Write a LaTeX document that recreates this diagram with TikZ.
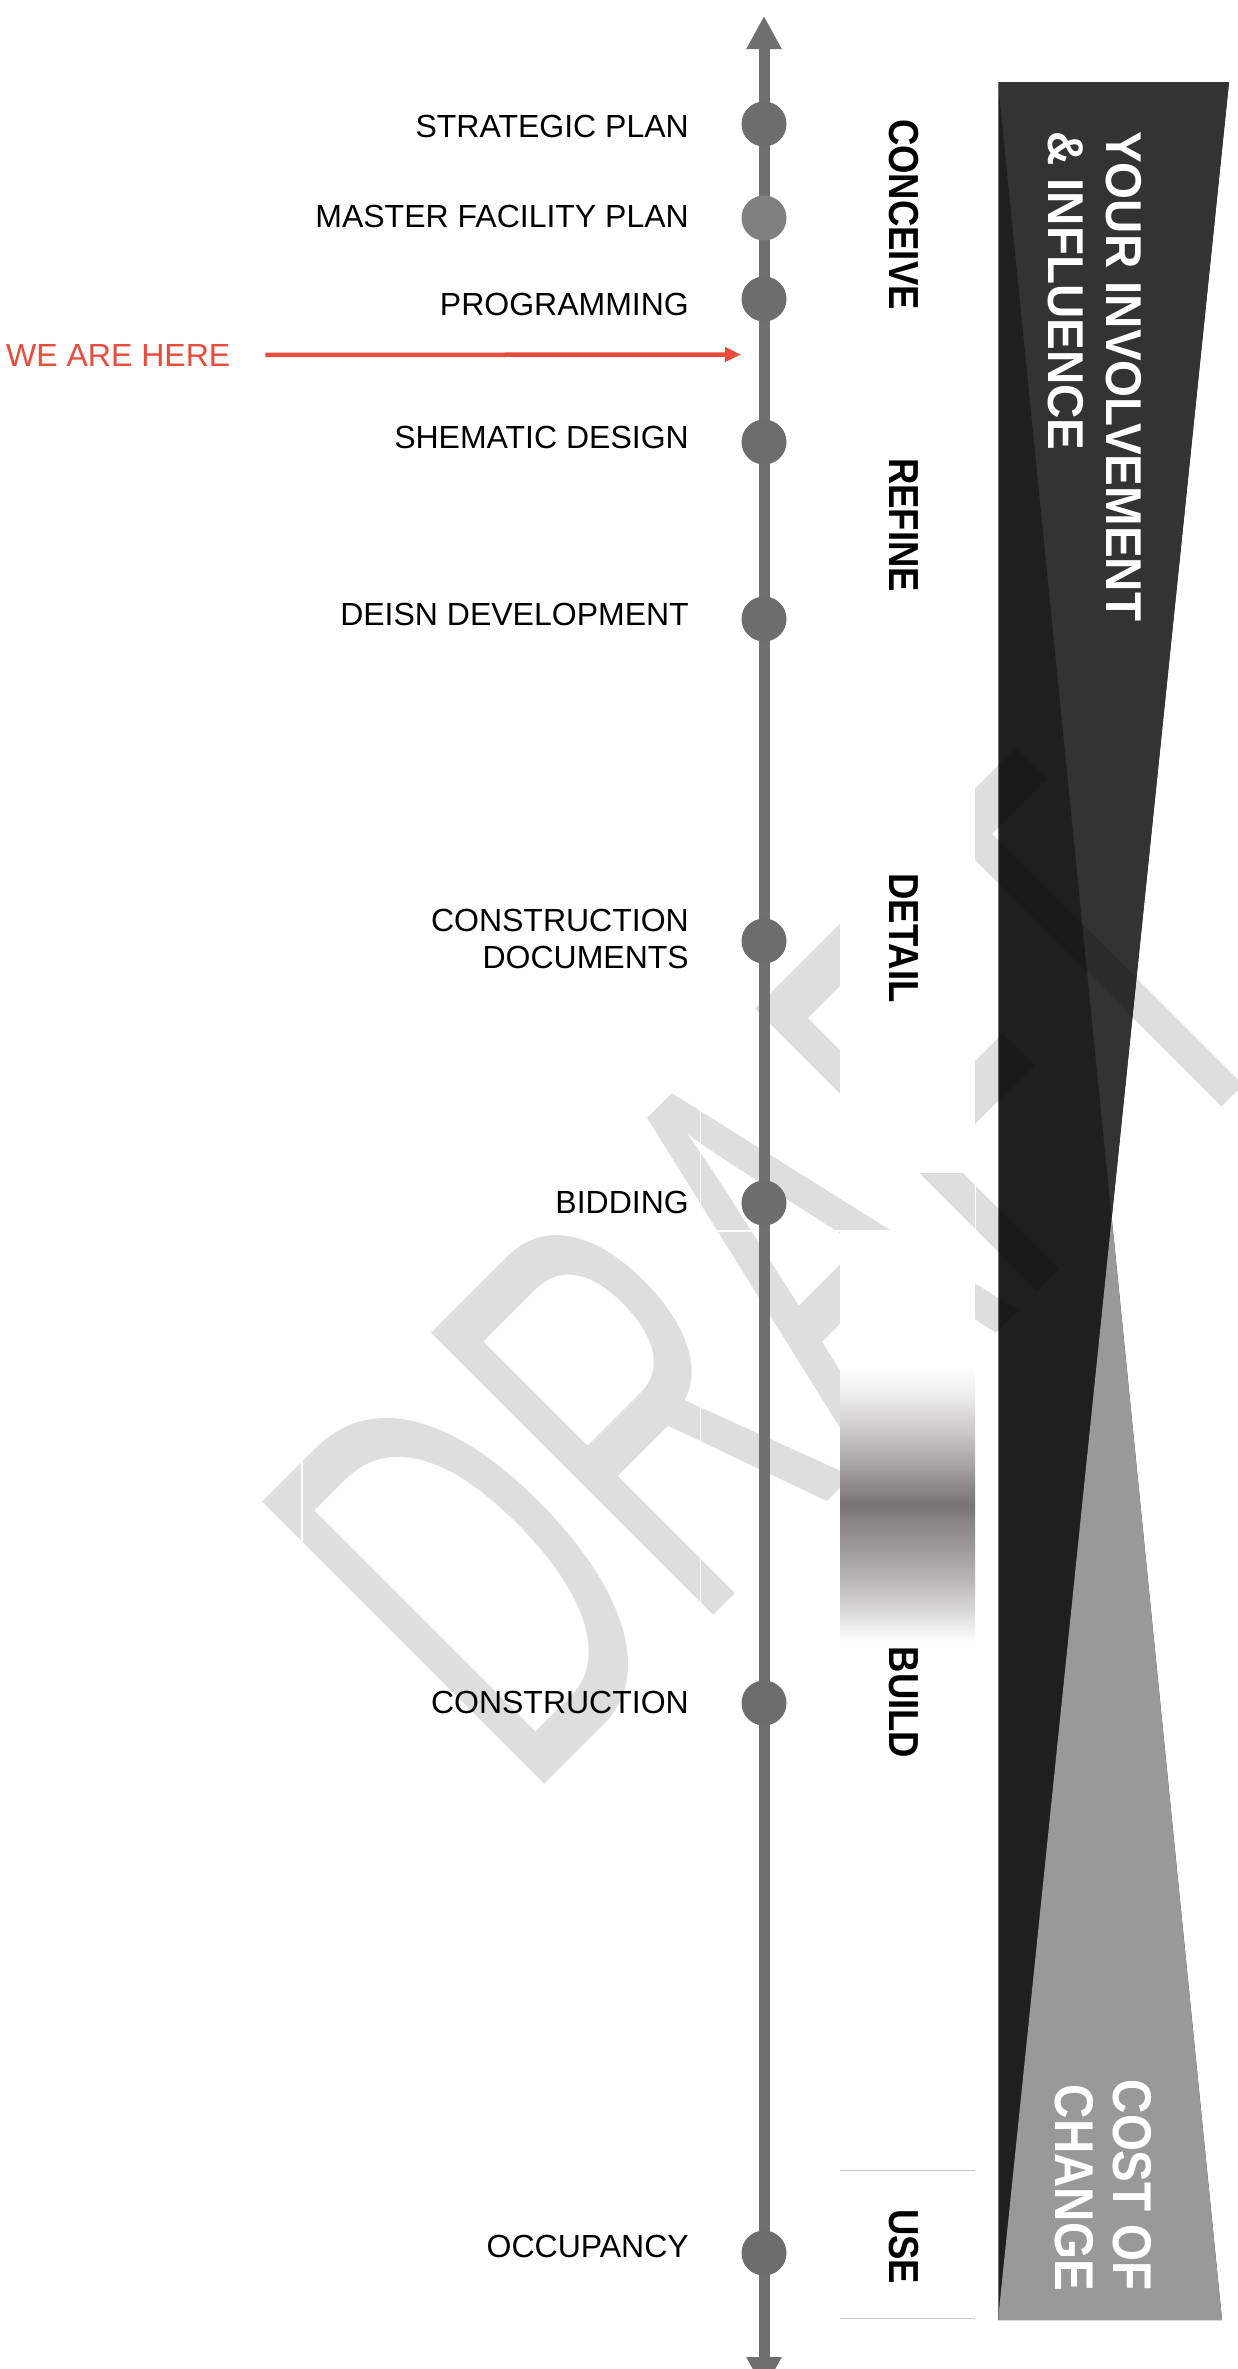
\documentclass[tikz,border=0pt]{standalone}
\usepackage{fontspec}
\setmainfont{Liberation Sans}
\usetikzlibrary{arrows.meta}
\definecolor{axisgray}{HTML}{6F6F6F}
\definecolor{dotgray}{HTML}{6D6D6D}
\definecolor{dotlight}{HTML}{808080}
\definecolor{herered}{HTML}{E84C3D}
\definecolor{banddark}{HTML}{1F1F1F}
\definecolor{bandmid}{HTML}{333333}
\definecolor{bandgray}{HTML}{999999}
\definecolor{wmgray}{HTML}{DEDEDE}
\definecolor{gradmid}{HTML}{787473}
\definecolor{uselinegray}{HTML}{C4C4C4}
\definecolor{bandedge}{HTML}{707070}
\pgfdeclareverticalshading{buildgrad}{100bp}{color(0bp)=(white); color(25bp)=(white); color(30.4bp)=(gradmid!26!white); color(36.4bp)=(gradmid!53!white); color(42.5bp)=(gradmid!75!white); color(46.7bp)=(gradmid!87!white); color(49.7bp)=(gradmid); color(52.6bp)=(gradmid!87!white); color(57.5bp)=(gradmid!63!white); color(63.4bp)=(gradmid!38!white); color(69.6bp)=(gradmid!13!white); color(75bp)=(white); color(100bp)=(white)}
\begin{document}
\begin{tikzpicture}[x=1pt,y=-1pt,
  dot/.style={circle, fill=dotgray, draw=none, minimum size=45pt, inner sep=0pt},
  dotpale/.style={dot, fill=dotlight},
  stage/.style={anchor=base east, inner sep=0pt, text=black, font=\fontsize{32}{37.6}\selectfont},
  phase/.style={rotate=-90, yscale=1.15, inner sep=0pt, text=black, font=\bfseries\fontsize{36.5}{40}\selectfont},
  bandtxt/.style={rotate=-90, inner sep=0pt, text=white},
  axisline/.style={draw=axisgray, line width=11pt, {Triangle[length=33pt,width=33pt]}-{Triangle[length=33pt,width=33pt]}},
  herearrow/.style={draw=herered, line width=4.5pt, -{Triangle[length=16pt,width=14pt]}},
  seam/.style={draw=white, line width=1.5pt},
  useline/.style={draw=uselinegray, line width=1pt},
  wmark/.style={anchor=base west, inner sep=0pt, rotate=45, xscale=0.57, text=wmgray, font=\fontsize{580}{600}\selectfont}
]
\useasboundingbox[fill=white] (0,0) rectangle (1237,2369);

% ---- right band: influence vs cost of change
\coordinate (btl) at (998,82);
\coordinate (btr) at (1229,82);
\coordinate (bx) at (1111.7,1218);
\coordinate (bbl) at (998,2320);
\coordinate (bbr) at (1222,2320);
\fill[banddark] (btl) -- (btr) -- (bx) -- (bbr) -- (bbl) -- cycle;
\fill[bandmid] (btl) -- (btr) -- (bx) -- cycle;
\fill[bandgray] (bx) -- (bbr) -- (bbl) -- cycle;
\draw[bandedge, line width=1pt] (btl) -- (bbl);

% ---- watermark
\begin{scope}[blend mode=multiply]
\node[wmark] (draft) at (525.4,1803.8) {DRAFT};
\end{scope}
\draw[seam] (302,1380) -- (302,1600);
\draw[seam] (700.5,1050) -- (700.5,1650);
\draw[seam] (700.5,1231) -- (840,1231);
\draw[seam] (975.5,1165) -- (975.5,1232);

% ---- phase column
\fill[white] (840,0) rectangle (975,1173);
\fill[white] (840,1230) rectangle (975,2369);
\shade[shading=buildgrad] (840,1365) rectangle (975,1642);
\draw[useline] (840,2170) -- (975,2170);
\draw[useline] (840,2318) -- (975,2318);

\node[phase] (pconceive) at (904,214.5) {CONCEIVE};
\node[phase] (prefine) at (904,525) {REFINE};
\node[phase] (pdetail) at (904,938) {DETAIL};
\node[phase] (pbuild) at (904,1702.5) {BUILD};
\node[phase] (puse) at (904,2246.5) {USE};

% ---- band texts
\node[bandtxt, yscale=1.06, anchor=north west, align=left,
      font=\bfseries\fontsize{47.5}{54.7}\selectfont] (influence) at (1141.5,131)
      {YOUR INVOLVEMENT\\\& INFLUENCE};
\node[bandtxt, yscale=1.15, anchor=north east, align=right,
      font=\bfseries\fontsize{47.5}{50.4}\selectfont] (cost) at (1151.5,2291)
      {COST OF\\CHANGE};

% ---- timeline axis
\coordinate (axtop) at (764,16);
\coordinate (axbot) at (764,2390);
\draw[axisline] (axbot) -- (axtop);

\node[dot] (strategic) at (764,124) {};
\node[dotpale] (master) at (764,218) {};
\node[dot] (programming) at (764,299) {};
\node[dot] (schematic) at (764,442) {};
\node[dot] (development) at (764,619) {};
\node[dot] (documents) at (764,941) {};
\node[dot] (bidding) at (764,1203) {};
\node[dot] (construction) at (764,1703) {};
\node[dot] (occupancy) at (764,2253) {};

\node[stage] (lstrategic) at (689,137.5) {STRATEGIC PLAN};
\node[stage] (lmaster) at (689,227.5) {MASTER FACILITY PLAN};
\node[stage] (lprogramming) at (689,315.5) {PROGRAMMING};
\node[stage] (lschematic) at (689,448.5) {SHEMATIC DESIGN};
\node[stage] (ldevelopment) at (689,625) {DEISN DEVELOPMENT};
\node[stage, anchor=east, align=right] (ldocuments) at (689,939) {CONSTRUCTION\\DOCUMENTS};
\node[stage] (lbidding) at (689,1213.3) {BIDDING};
\node[stage] (lconstruction) at (689,1713.7) {CONSTRUCTION};
\node[stage] (loccupancy) at (689,2257.5) {OCCUPANCY};

% ---- we are here
\node[anchor=base west, inner sep=0pt, text=herered, font=\fontsize{32}{37.6}\selectfont] (wah) at (6,366) {WE ARE HERE};
\coordinate (wahtip) at (741,354.5);
\draw[herearrow] ([xshift=35pt]wah.east) -- (wahtip);
\end{tikzpicture}
\end{document}
